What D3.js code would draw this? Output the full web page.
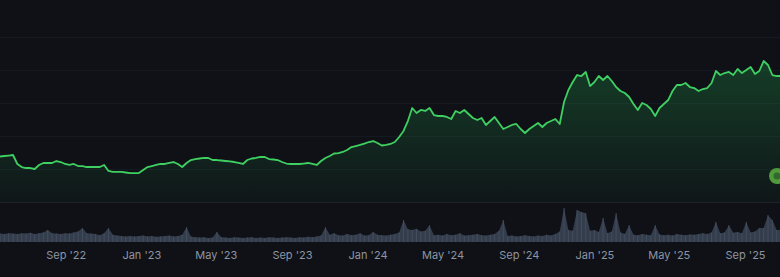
<!DOCTYPE html>
<html>
<head>
<meta charset="utf-8">
<script src="https://cdn.jsdelivr.net/npm/d3@7"></script>
<style>
  html, body { margin: 0; padding: 0; background: #0f1117; }
  svg { display: block; }
  .axis text { font-family: Inter, "Noto Sans", sans-serif; font-size: 11px; font-weight: 400; fill: #8d95a2; }
</style>
</head>
<body>
<svg id="chart" width="780" height="277"></svg>
<script>
// weekly closes, starting 18 May 2022
const startDate = new Date(2022, 4, 18);
const prices = [
  68.9, 69.7, 70.4, 71.2, 57.6, 53.0, 51.5, 51.5, 50.0, 56.1,
  59.1, 59.1, 59.1, 62.1, 60.6, 57.6, 56.1, 57.6, 54.5, 54.5,
  53.0, 53.0, 53.0, 53.0, 56.1, 47.0, 45.5, 45.5, 45.5, 44.7,
  43.9, 43.9, 43.9, 48.5, 53.0, 54.5, 56.1, 57.6, 57.6, 59.1,
  60.6, 57.6, 53.0, 59.1, 63.6, 65.1, 65.9, 66.7, 66.7, 63.6,
  63.6, 62.9, 62.1, 61.4, 60.6, 59.1, 57.6, 63.6, 65.9, 66.7,
  68.2, 68.2, 65.1, 64.4, 63.6, 60.6, 58.3, 57.6, 57.6, 57.6,
  58.3, 59.1, 57.6, 56.1, 62.1, 66.7, 69.7, 73.5, 74.2, 75.8,
  78.8, 83.3, 84.8, 86.4, 88.6, 90.9, 92.4, 89.4, 85.6, 86.4,
  87.9, 90.9, 98.5, 107.6, 122.7, 142.4, 134.8, 139.4, 137.9, 142.4,
  131.8, 130.3, 130.3, 128.8, 125.7, 137.9, 134.8, 139.4, 133.3, 127.3,
  124.2, 127.3, 116.7, 122.7, 128.8, 119.7, 110.6, 113.6, 116.7, 118.2,
  110.6, 104.5, 110.6, 115.1, 119.7, 113.6, 119.7, 122.7, 125.7, 118.2,
  151.5, 169.7, 181.8, 192.4, 190.9, 197.0, 175.7, 181.8, 190.9, 184.8,
  190.9, 183.3, 174.2, 168.2, 165.1, 159.1, 148.5, 139.4, 150.0, 147.0,
  140.9, 130.3, 142.4, 148.5, 154.5, 168.2, 177.3, 177.3, 180.3, 174.2,
  172.7, 168.2, 171.2, 172.7, 180.3, 198.5, 192.4, 195.4, 197.0, 192.4,
  201.5, 195.4, 200.0, 204.5, 193.9, 198.5, 213.6, 207.6, 192.4, 190.9,
  190.9
];
const volumes = [
  21, 20, 22, 21, 20, 22, 21, 23, 20, 22,
  24, 30, 22, 21, 20, 22, 21, 24, 26, 35,
  22, 21, 20, 17, 22, 35, 18, 16, 15, 14,
  15, 14, 15, 16, 14, 15, 13, 14, 15, 16,
  14, 15, 18, 37, 14, 12, 11, 12, 10, 11,
  25, 12, 11, 10, 12, 11, 10, 11, 12, 10,
  11, 10, 12, 11, 10, 11, 12, 11, 10, 12,
  11, 13, 12, 14, 16, 37, 18, 22, 17, 16,
  20, 17, 18, 22, 16, 17, 25, 18, 17, 16,
  18, 20, 24, 55, 32, 30, 33, 26, 28, 42,
  17, 18, 16, 20, 17, 18, 22, 16, 17, 18,
  20, 17, 16, 18, 20, 28, 55, 15, 16, 14,
  15, 17, 15, 14, 16, 15, 18, 16, 20, 26,
  85, 30, 28, 80, 75, 72, 28, 30, 25, 60,
  22, 26, 72, 24, 20, 42, 18, 17, 20, 18,
  17, 42, 19, 17, 18, 16, 20, 18, 17, 19,
  18, 20, 22, 20, 24, 50, 22, 24, 42, 23,
  25, 22, 50, 24, 26, 35, 35, 67, 55, 30,
  30
];
const priceTicks = [0, 50, 100, 150, 200, 250];

const data = prices.map((p, i) => ({
  date: d3.timeDay.offset(startDate, i * 7),
  price: p,
  volume: volumes[i]
}));

const svg = d3.select("#chart");
const width = +svg.attr("width");

const x = d3.scaleTime()
  .domain(d3.extent(data, d => d.date))
  .range([0, 781]);
const y = d3.scaleLinear().domain([0, 250]).range([202, 37]);
const yVol = d3.scaleLinear().domain([0, 100]).range([242, 202]);

// grid
svg.append("g")
  .selectAll("line")
  .data(priceTicks)
  .join("line")
  .attr("x1", 0).attr("x2", width)
  .attr("y1", d => Math.round(y(d)) + 0.5)
  .attr("y2", d => Math.round(y(d)) + 0.5)
  .attr("stroke", d => d === 0 ? "#1d222d" : "#151921")
  .attr("stroke-width", 1);

// area gradient
const defs = svg.append("defs");
const grad = defs.append("linearGradient")
  .attr("id", "fillGrad")
  .attr("gradientUnits", "userSpaceOnUse")
  .attr("x1", 0).attr("x2", 0)
  .attr("y1", y(d3.max(prices))).attr("y2", y(0));
grad.append("stop").attr("offset", "0%").attr("stop-color", "#28c85a").attr("stop-opacity", 0.24);
grad.append("stop").attr("offset", "100%").attr("stop-color", "#28c85a").attr("stop-opacity", 0.03);

const area = d3.area()
  .x(d => x(d.date))
  .y0(y(0))
  .y1(d => y(d.price));

const line = d3.line()
  .x(d => x(d.date))
  .y(d => y(d.price));

svg.append("path")
  .datum(data)
  .attr("fill", "url(#fillGrad)")
  .attr("d", area);

svg.append("path")
  .datum(data)
  .attr("fill", "none")
  .attr("stroke", "#3fd062")
  .attr("stroke-width", 1.8)
  .attr("stroke-linejoin", "round")
  .attr("d", line);

// volume
const volArea = d3.area()
  .x(d => x(d.date))
  .y0(yVol(0))
  .y1(d => yVol(d.volume));

svg.append("path")
  .datum(data)
  .attr("fill", "#343d4c")
  .attr("d", volArea);

svg.append("g")
  .selectAll("line")
  .data(data)
  .join("line")
  .attr("x1", d => x(d.date)).attr("x2", d => x(d.date))
  .attr("y1", yVol(0))
  .attr("y2", d => yVol(d.volume))
  .attr("stroke", "#434d5e")
  .attr("stroke-width", 1);

// x axis
svg.append("g")
  .attr("class", "axis")
  .attr("transform", "translate(0,247)")
  .call(d3.axisBottom(x)
    .ticks(d3.timeMonth.every(4))
    .tickFormat(d3.timeFormat("%b '%y"))
    .tickSize(0)
    .tickPadding(4))
  .call(g => g.select(".domain").remove());

// marker badge at right edge
const last = data[data.length - 1];
svg.append("circle")
  .attr("cx", x(last.date) - 4)
  .attr("cy", 176)
  .attr("r", 8)
  .attr("fill", "#4f9a3a");
svg.append("circle")
  .attr("cx", x(last.date) - 4)
  .attr("cy", 176)
  .attr("r", 3.5)
  .attr("fill", "#2f6a2a");
</script>
</body>
</html>
